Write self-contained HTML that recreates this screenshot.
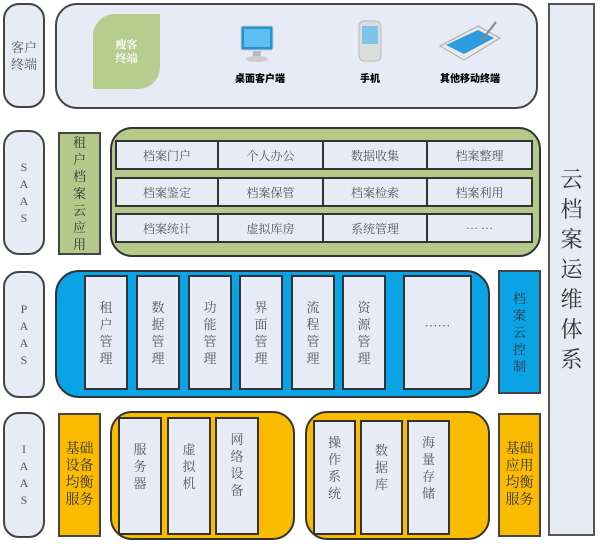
<!DOCTYPE html>
<html><head><meta charset="utf-8"><style>
body{margin:0;width:600px;height:544px;background:#fff;position:relative;overflow:hidden;font-family:"Liberation Serif","Noto Serif CJK SC",serif;color:#333}
div{position:absolute;box-sizing:border-box}
.pill{left:3px;width:42px;border:2px solid #444;border-radius:16px;background:#e6ebf5;display:flex;align-items:center;justify-content:center;text-align:center;font-size:12px;line-height:17px;color:#555}
.cell{border:2px solid #333;background:#e6ebf5;display:flex;align-items:center;justify-content:center;font-size:12px;color:#555}
.col{border:2px solid #333;background:#e6ebf5;display:flex;justify-content:center;padding-top:22px;font-size:13px;line-height:17px;color:#555;text-align:center}
.side{border:2px solid #444;display:flex;align-items:center;justify-content:center;text-align:center;font-size:13px;line-height:17px;color:#333}
.lbl{font-family:"Noto Sans CJK SC",sans-serif;font-weight:900;font-size:10px;color:#000;text-align:center}
</style></head><body>
<div class="pill" style="top:3px;height:105px;font-size:13px">客户<br>终端</div>
<div style="left:55px;top:3px;width:483px;height:106px;border:2px solid #444;border-radius:22px;background:#e6ebf5"></div>
<div style="left:93px;top:14px;width:67px;height:75px;background:#b7cd8d;border-radius:22px 0 22px 0;display:flex;align-items:center;justify-content:center;color:#fff;font-size:11px;text-align:center;line-height:14px;font-weight:bold">瘦客<br>终端</div>
<svg style="position:absolute;left:238px;top:24px" width="40" height="40"><rect x="3" y="2" width="32" height="24" rx="2" fill="#2b8fd6" stroke="#ccc"/><rect x="6" y="5" width="26" height="18" fill="#5ec0f0"/><rect x="15" y="27" width="8" height="5" fill="#bbb"/><ellipse cx="19" cy="35" rx="11" ry="3" fill="#ccc"/></svg>
<div class="lbl" style="left:225px;top:70px;width:70px">桌面客户端</div>
<svg style="position:absolute;left:357px;top:20px" width="26" height="44"><rect x="2" y="1" width="22" height="40" rx="5" fill="#ddd" stroke="#bbb"/><rect x="5" y="6" width="16" height="18" fill="#7cc4ea"/></svg>
<div class="lbl" style="left:345px;top:70px;width:50px">手机</div>
<svg style="position:absolute;left:438px;top:20px" width="64" height="42"><polygon points="2,26 40,6 62,18 26,40" fill="#e8e8e8" stroke="#aaa"/><polygon points="8,25 40,10 56,18 26,34" fill="#2d9be0"/><line x1="44" y1="20" x2="58" y2="2" stroke="#888" stroke-width="2"/></svg>
<div class="lbl" style="left:425px;top:70px;width:90px">其他移动终端</div>

<div style="left:548px;top:3px;width:47px;height:533px;border:2px solid #555;background:#e6ebf5;display:flex;align-items:center;justify-content:center;font-size:22px;line-height:30px;text-align:center;color:#333"><span>云<br>档<br>案<br>运<br>维<br>体<br>系</span></div>

<div class="pill" style="top:130px;height:125px">S<br>A<br>A<br>S</div>
<div class="side" style="left:58px;top:132px;width:43px;height:123px;background:#b5c98a">租<br>户<br>档<br>案<br>云<br>应<br>用</div>
<div style="left:110px;top:127px;width:431px;height:130px;border:2px solid #333;border-radius:22px;background:#b5c98a"></div>
<div class="cell" style="left:115px;top:140px;width:104px;height:30px">档案门户</div>
<div class="cell" style="left:217px;top:140px;width:107px;height:30px">个人办公</div>
<div class="cell" style="left:322px;top:140px;width:106px;height:30px">数据收集</div>
<div class="cell" style="left:426px;top:140px;width:107px;height:30px">档案整理</div>
<div class="cell" style="left:115px;top:177px;width:104px;height:30px">档案鉴定</div>
<div class="cell" style="left:217px;top:177px;width:107px;height:30px">档案保管</div>
<div class="cell" style="left:322px;top:177px;width:106px;height:30px">档案检索</div>
<div class="cell" style="left:426px;top:177px;width:107px;height:30px">档案利用</div>
<div class="cell" style="left:115px;top:213px;width:104px;height:30px">档案统计</div>
<div class="cell" style="left:217px;top:213px;width:107px;height:30px">虚拟库房</div>
<div class="cell" style="left:322px;top:213px;width:106px;height:30px">系统管理</div>
<div class="cell" style="left:426px;top:213px;width:107px;height:30px">··· ···</div>

<div class="pill" style="top:271px;height:127px">P<br>A<br>A<br>S</div>
<div style="left:55px;top:270px;width:435px;height:128px;border:2px solid #333;border-radius:24px;background:#0aa3e6"></div>
<div class="col" style="left:84px;top:275px;width:44px;height:115px">租<br>户<br>管<br>理</div>
<div class="col" style="left:136px;top:275px;width:44px;height:115px">数<br>据<br>管<br>理</div>
<div class="col" style="left:188px;top:275px;width:44px;height:115px">功<br>能<br>管<br>理</div>
<div class="col" style="left:239px;top:275px;width:44px;height:115px">界<br>面<br>管<br>理</div>
<div class="col" style="left:291px;top:275px;width:44px;height:115px">流<br>程<br>管<br>理</div>
<div class="col" style="left:342px;top:275px;width:44px;height:115px">资<br>源<br>管<br>理</div>
<div class="col" style="left:403px;top:275px;width:69px;height:115px;padding-top:40px">······</div>
<div class="side" style="left:498px;top:270px;width:43px;height:124px;background:#0aa3e6">档<br>案<br>云<br>控<br>制</div>

<div class="pill" style="top:412px;height:126px">I<br>A<br>A<br>S</div>
<div class="side" style="left:58px;top:413px;width:43px;height:124px;background:#fbbb00;font-size:14px">基础<br>设备<br>均衡<br>服务</div>
<div style="left:110px;top:411px;width:185px;height:129px;border:2px solid #333;border-radius:22px;background:#fbbb00"></div>
<div class="col" style="left:118px;top:417px;width:44px;height:118px;padding-top:22px">服<br>务<br>器</div>
<div class="col" style="left:167px;top:417px;width:44px;height:118px;padding-top:22px">虚<br>拟<br>机</div>
<div class="col" style="left:215px;top:417px;width:44px;height:118px;padding-top:12px">网<br>络<br>设<br>备</div>
<div style="left:305px;top:411px;width:185px;height:129px;border:2px solid #333;border-radius:22px;background:#fbbb00"></div>
<div class="col" style="left:313px;top:420px;width:43px;height:115px;padding-top:12px">操<br>作<br>系<br>统</div>
<div class="col" style="left:360px;top:420px;width:43px;height:115px;padding-top:20px">数<br>据<br>库</div>
<div class="col" style="left:407px;top:420px;width:43px;height:115px;padding-top:12px">海<br>量<br>存<br>储</div>
<div class="side" style="left:498px;top:413px;width:43px;height:124px;background:#fbbb00;font-size:14px">基础<br>应用<br>均衡<br>服务</div>
</body></html>
